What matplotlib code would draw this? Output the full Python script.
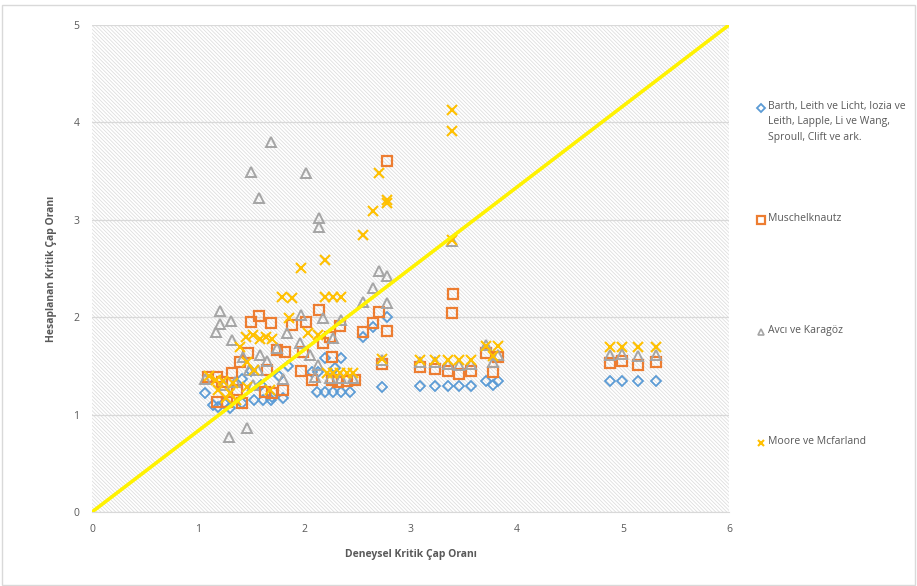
import matplotlib
matplotlib.use("Agg")
import matplotlib.pyplot as plt
from matplotlib.lines import Line2D
from matplotlib.patches import Rectangle

plt.rcParams['font.family'] = ['Open Sans', 'DejaVu Sans']
plt.rcParams['hatch.linewidth'] = 0.55
plt.rcParams['hatch.color'] = '#DCDCDC'

# Barth, Leith ve Licht, Iozia ve Leith, Lapple, Li ve Wang, Sproull, Clift ve ark.
barth_x = [1.06, 1.14, 1.19, 1.30, 1.24, 1.41, 1.41, 1.53, 1.61, 1.69, 1.70, 1.80,
           1.50, 1.59, 1.76, 1.85, 2.07, 2.12, 2.19, 2.27, 2.35, 2.43, 2.19, 2.35,
           2.29, 2.13, 2.55, 2.65, 2.78, 2.73, 3.09, 3.23, 3.35, 3.46, 3.57, 3.71,
           3.78, 3.82, 4.88, 4.99, 5.14, 5.31]
barth_y = [1.22, 1.10, 1.08, 1.07, 1.12, 1.37, 1.12, 1.15, 1.15, 1.15, 1.18, 1.17,
           1.45, 1.30, 1.40, 1.50, 1.44, 1.23, 1.23, 1.23, 1.23, 1.23, 1.58, 1.58,
           1.48, 1.44, 1.80, 1.90, 2.00, 1.28, 1.29, 1.29, 1.29, 1.29, 1.29, 1.35,
           1.30, 1.35, 1.35, 1.35, 1.35, 1.35]

# Muschelknautz
musch_x = [1.09, 1.18, 1.18, 1.27, 1.41, 1.32, 1.39, 1.47, 1.65, 1.63, 1.70, 1.50,
           1.57, 1.69, 1.74, 1.82, 1.80, 1.97, 1.99, 1.88, 2.02, 2.14, 2.18, 2.24,
           2.26, 2.34, 2.07, 2.26, 2.32, 2.40, 2.48, 2.55, 2.65, 2.70, 2.78, 2.73,
           2.78, 3.40, 3.39, 3.09, 3.23, 3.35, 3.46, 3.57, 3.71, 3.78, 3.82, 4.88,
           4.99, 5.14, 5.31, 1.22, 1.37]
musch_y = [1.39, 1.39, 1.13, 1.13, 1.12, 1.43, 1.54, 1.63, 1.46, 1.23, 1.22, 1.95,
           2.01, 1.94, 1.66, 1.64, 1.25, 1.45, 1.64, 1.92, 1.95, 2.07, 1.73, 1.80,
           1.59, 1.91, 1.36, 1.36, 1.33, 1.35, 1.36, 1.85, 1.94, 2.05, 1.86, 1.52,
           3.60, 2.24, 2.04, 1.49, 1.47, 1.45, 1.42, 1.45, 1.63, 1.44, 1.59, 1.53,
           1.55, 1.51, 1.54, 1.33, 1.25]

# Avcı ve Karagöz
avci_x = [1.69, 1.50, 2.02, 1.57, 2.14, 2.14, 1.21, 1.31, 1.21, 1.17, 1.32, 1.06,
          1.42, 1.58, 1.56, 1.48, 1.46, 1.29, 1.97, 2.18, 2.35, 1.84, 1.74, 1.96,
          2.05, 2.27, 2.13, 2.10, 2.24, 2.35, 2.46, 1.80, 2.70, 2.78, 2.65, 2.55,
          2.78, 3.39, 2.73, 3.09, 3.23, 3.35, 3.46, 3.57, 3.71, 3.78, 3.82, 4.88,
          4.99, 5.14, 5.31, 1.24, 1.35, 1.65, 1.52]
avci_y = [3.80, 3.49, 3.48, 3.22, 3.02, 2.93, 2.06, 1.96, 1.93, 1.85, 1.77, 1.37,
          1.59, 1.61, 1.46, 1.46, 0.86, 0.77, 2.02, 1.99, 1.97, 1.84, 1.68, 1.73,
          1.61, 1.79, 1.51, 1.39, 1.38, 1.38, 1.38, 1.37, 2.47, 2.42, 2.30, 2.16,
          2.15, 2.78, 1.56, 1.54, 1.54, 1.52, 1.51, 1.52, 1.71, 1.54, 1.61, 1.61,
          1.62, 1.60, 1.61, 1.30, 1.33, 1.55, 1.30]

# Moore ve Mcfarland
moore_x = [1.79, 1.88, 2.19, 2.27, 2.35, 1.97, 2.19, 2.55, 2.65, 2.70, 2.78, 2.78,
           3.39, 3.39, 3.39, 1.86, 2.03, 2.13, 2.21, 2.27, 2.34, 2.40, 2.46, 1.39,
           1.45, 1.52, 1.58, 1.64, 1.70, 1.46, 1.53, 1.68, 1.23, 1.33, 1.46, 1.30,
           1.10, 1.17, 1.19, 1.26, 1.36, 2.73, 3.09, 3.23, 3.35, 3.46, 3.57, 3.71,
           3.78, 3.82, 4.88, 4.99, 5.14, 5.31]
moore_y = [2.21, 2.20, 2.21, 2.21, 2.21, 2.51, 2.59, 2.84, 3.09, 3.48, 3.20, 3.17,
           4.13, 3.91, 2.79, 1.99, 1.84, 1.82, 1.43, 1.43, 1.43, 1.43, 1.43, 1.69,
           1.80, 1.82, 1.78, 1.80, 1.78, 1.54, 1.46, 1.25, 1.35, 1.32, 1.28, 1.22,
           1.40, 1.36, 1.25, 1.17, 1.15, 1.57, 1.56, 1.56, 1.56, 1.56, 1.56, 1.70,
           1.60, 1.70, 1.69, 1.69, 1.69, 1.69]

# 1:1 reference line endpoints (x, y)
ref_x = [0, 6]
ref_y = [0, 5]

x_ticks = [0, 1, 2, 3, 4, 5, 6]
y_ticks = [0, 1, 2, 3, 4, 5]

series_labels = ["Barth, Leith ve Licht, Iozia ve\nLeith, Lapple, Li ve Wang,\nSproull, Clift ve ark.",
                 "Muschelknautz", "Avcı ve Karagöz", "Moore ve Mcfarland"]

BLUE = '#5B9BD5'
ORANGE = '#ED7D31'
GRAY = '#A5A5A5'
GOLD = '#FFC000'
TXT = '#595959'

fig = plt.figure(figsize=(9.17, 5.86), dpi=100)
fig.patch.set_facecolor('white')
ax = fig.add_axes([92 / 917, 1 - 512 / 586, 637 / 917, 487 / 586])

# hatched plot area
ax.patch.set_facecolor('white')
ax.patch.set_hatch('\\' * 9)
ax.patch.set_edgecolor('#DCDCDC')
ax.patch.set_linewidth(0)

ax.set_xlim(0, 6)
ax.set_ylim(0, 5)
ax.set_xticks(x_ticks)
ax.set_yticks(y_ticks)
ax.tick_params(length=0, colors=TXT, labelsize=7.5, pad=9)
for s in ax.spines.values():
    s.set_visible(False)
ax.spines['bottom'].set_visible(True)
ax.spines['bottom'].set_color('#D9D9D9')
ax.yaxis.grid(True, color='#D9D9D9', lw=0.9)
ax.set_axisbelow(True)

ms = 6.5
ax.plot(barth_x, barth_y, ls='none', marker='D', ms=4.6, mfc='none', mec=BLUE, mew=1.3, zorder=3)
ax.plot(musch_x, musch_y, ls='none', marker='s', ms=ms, mfc='none', mec=ORANGE, mew=1.6, zorder=3)
ax.plot(avci_x, avci_y, ls='none', marker='^', ms=ms, mfc='none', mec=GRAY, mew=1.4, zorder=3)
ax.plot(moore_x, moore_y, ls='none', marker='x', ms=ms, mec=GOLD, mew=1.5, zorder=3)
ax.plot(ref_x, ref_y, color='#FFF200', lw=2.6, zorder=4, solid_capstyle='butt')

ax.set_xlabel('Deneysel Kritik Çap Oranı', fontsize=7.5, fontweight='bold', color=TXT, labelpad=10)
ax.set_ylabel('Hesaplanan Kritik Çap Oranı', fontsize=7.5, fontweight='bold', color=TXT, labelpad=12)

# legend drawn in figure pixels
def fx(px):
    return px / 917

def fy(py):
    return 1 - py / 586

leg_markers = [('D', BLUE, 4.0, 1.3), ('s', ORANGE, 6.0, 1.6), ('^', GRAY, 5.0, 1.2), ('x', GOLD, 5.0, 1.5)]
leg_y = [108, 220, 332, 443]
for (m, c, size, mw), py, lab in zip(leg_markers, leg_y, series_labels):
    fig.add_artist(Line2D([fx(761)], [fy(py)], marker=m, ms=size, mfc='none', mec=c, mew=mw,
                          ls='none', transform=fig.transFigure))
    fig.text(fx(768), fy(py - 7), lab, fontsize=7.5, color=TXT, va='top', ha='left', linespacing=1.55)

# chart border
fig.add_artist(Rectangle((0.002, 0.002), 0.996, 0.99, transform=fig.transFigure,
                         fill=False, ec='#D9D9D9', lw=1.0))

fig.savefig('out.png', dpi=100)
